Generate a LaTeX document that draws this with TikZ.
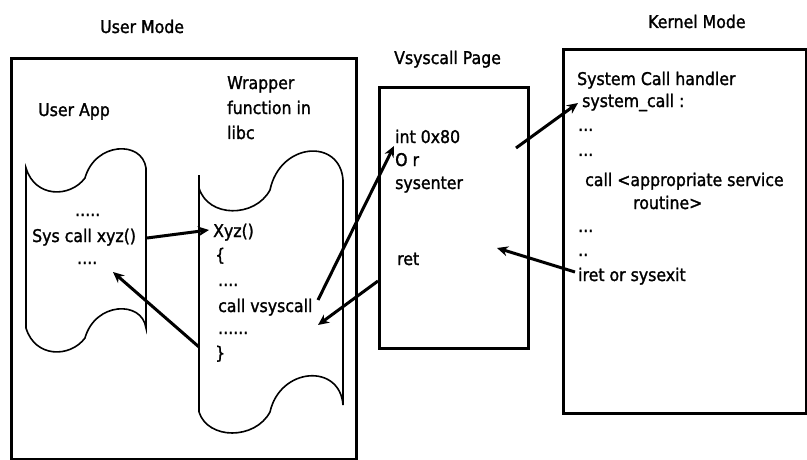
\documentclass[tikz,border=0pt]{standalone}
\usepackage{fontspec}
\setmainfont{DejaVu Sans}[FakeStretch=0.9,FakeBold=1.5]
\usetikzlibrary{arrows.meta}
\begin{document}
\begin{tikzpicture}[x=1pt,y=-1pt,
  lbl/.style={font=\fontsize{17.5}{20}\selectfont, inner sep=0pt, anchor=base west},
  modebox/.style={draw, line width=3pt, inner sep=0pt, anchor=north west},
  tape/.style={draw, line width=1.6pt},
  arr/.style={line width=3pt, -{Stealth[length=11pt,width=10pt]}}]
\useasboundingbox (0,0) rectangle (807,460);

% mode boxes
\node[modebox, minimum width=345pt, minimum height=401pt] (um) at (10,57) {};
\node[modebox, minimum width=149pt, minimum height=261pt] (vp) at (378,86) {};
\node[modebox, minimum width=243pt, minimum height=364pt] (km) at (562,48) {};

% titles
\node[lbl] (tum) at (100,33) {User Mode};
\node[lbl] (tvp) at (394,64) {Vsyscall Page};
\node[lbl] (tkm) at (648,28) {Kernel Mode};

% user app tape
\draw[tape] (26,168) .. controls (35,198) and (70,198) .. (85,178)
  .. controls (95,142) and (142,140) .. (146,168) -- (146,328)
  .. controls (142,300) and (95,302) .. (85,338)
  .. controls (70,358) and (35,358) .. (26,328) -- cycle;
\node[lbl] (tua) at (38,116) {User App};
\node[lbl] (ua1) at (75,216) {.....};
\node[lbl] (ua2) at (32,242) {Sys call xyz()};
\node[lbl] (ua3) at (77,264) {....};

% wrapper tape
\draw[tape] (199,175) -- (199,412);
\draw[tape] (199,188) .. controls (208,218) and (255,218) .. (270,190)
  .. controls (280,142) and (340,138) .. (343,180) -- (343,405)
  .. controls (340,363) and (280,367) .. (270,412)
  .. controls (255,440) and (208,440) .. (199,412);
\node[lbl] (tw1) at (227,89) {Wrapper};
\node[lbl] (tw2) at (227,114) {function in};
\node[lbl] (tw3) at (227,139) {libc};
\node[lbl] (w1) at (213,237) {Xyz()};
\node[lbl] (w2) at (215,261) {\{};
\node[lbl] (w3) at (218,286) {....};
\node[lbl] (w4) at (218,312) {call vsyscall};
\node[lbl] (w5) at (218,334) {......};
\node[lbl] (w6) at (215,359) {\}};

% vsyscall page text
\node[lbl] (v1) at (395,143) {int 0x80};
\node[lbl] (v2) at (395,166) {O r};
\node[lbl] (v3) at (395,189) {sysenter};
\node[lbl] (v4) at (397,265) {ret};

% kernel text
\node[lbl] (k1) at (577,85) {System Call handler};
\node[lbl] (k2) at (582,107) {system\_call :};
\node[lbl] (k3) at (578,131) {...};
\node[lbl] (k4) at (578,156) {...};
\node[lbl] (k5) at (585,186) {call <appropriate service};
\node[lbl] (k6) at (633,209) {routine>};
\node[lbl] (k7) at (578,232) {...};
\node[lbl] (k8) at (578,256) {..};
\node[lbl] (k9) at (578,281) {iret or sysexit};

% connector endpoints
\coordinate (a1s) at (147,238); \coordinate (a1e) at (209,230);
\coordinate (a2s) at (199,347); \coordinate (a2e) at (113,272);
\coordinate (a3s) at (318,300); \coordinate (a3e) at (394,146);
\coordinate (a4s) at (378,281); \coordinate (a4e) at (318,325);
\coordinate (a5s) at (516,148); \coordinate (a5e) at (578,103);
\coordinate (a6s) at (575,272); \coordinate (a6e) at (497,248);

\draw[arr] (a1s) -- (a1e);
\draw[arr] (a2s) -- (a2e);
\draw[arr] (a3s) -- (a3e);
\draw[arr] (a4s) -- (a4e);
\draw[arr] (a5s) -- (a5e);
\draw[arr] (a6s) -- (a6e);
\end{tikzpicture}
\end{document}
